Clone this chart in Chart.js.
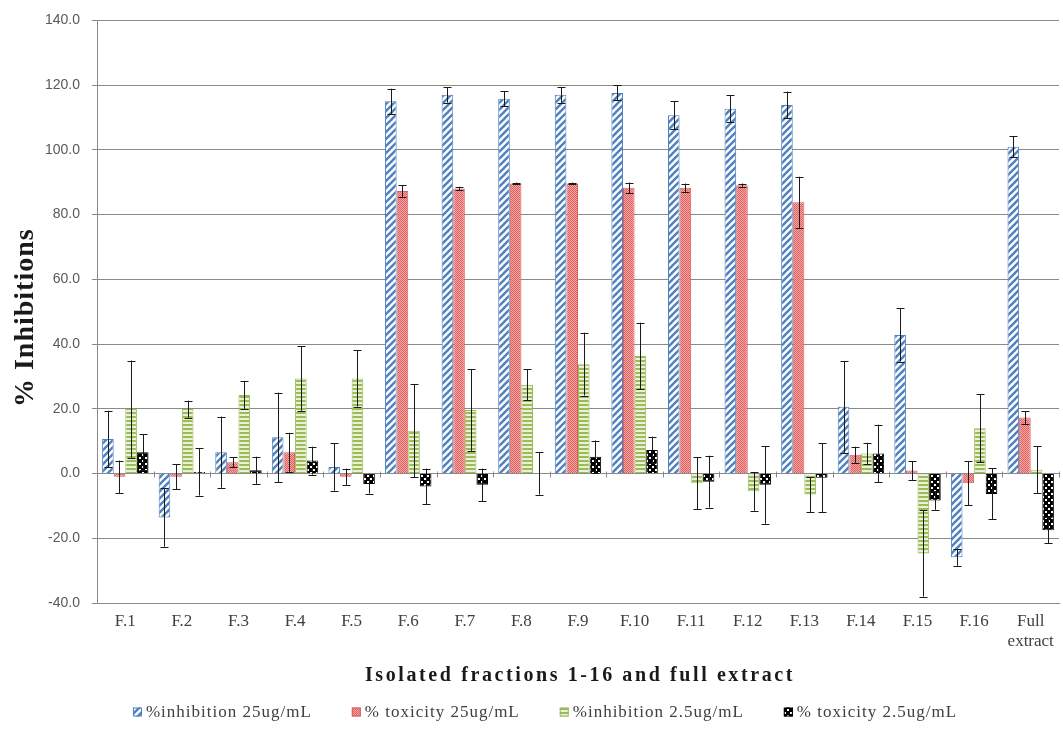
<!DOCTYPE html>
<html>
<head>
<meta charset="utf-8">
<script src="https://cdn.jsdelivr.net/npm/chart.js@4/dist/chart.umd.min.js"></script>
<style>
  html, body { margin: 0; padding: 0; background: #ffffff; }
  #wrap { width: 1063px; height: 737px; }
</style>
</head>
<body>
<div id="wrap"><canvas id="c" width="1063" height="737"></canvas></div>
<script>
// ---- data ----
const categories = ['F.1','F.2','F.3','F.4','F.5','F.6','F.7','F.8','F.9','F.10','F.11','F.12','F.13','F.14','F.15','F.16',['Full','extract']];
const seriesLabels = ['%inhibition 25ug/mL', '% toxicity 25ug/mL', '%inhibition 2.5ug/mL', '% toxicity 2.5ug/mL'];
const inhibition25 = [10.7, -13.6, 6.6, 11.2, 2.0, 115.0, 117.0, 115.8, 117.0, 117.6, 110.7, 112.7, 113.9, 20.6, 42.8, -25.9, 101.0];
const inhibition25Err = [8.7, 9.0, 11.0, 13.8, 7.3, 3.9, 2.4, 2.3, 2.4, 2.3, 4.3, 4.1, 4.1, 14.2, 8.2, 2.6, 3.3];
const toxicity25 = [-1.0, -1.0, 3.5, 6.6, -1.0, 87.3, 88.1, 89.6, 89.6, 88.3, 88.3, 89.1, 83.8, 5.8, 0.9, -3.0, 17.3];
const toxicity25Err = [5.0, 3.9, 1.5, 6.0, 2.5, 1.8, 0.5, 0.3, 0.3, 1.6, 1.3, 0.5, 7.9, 2.5, 2.9, 6.8, 2.0];
const inhibition2_5 = [19.9, 19.9, 24.3, 29.4, 29.4, 13.2, 19.6, 27.4, 33.8, 36.3, -3.0, -5.5, -6.5, 6.2, -24.7, 14.0, 1.2];
const inhibition2_5Err = [15.0, 2.6, 4.3, 10.0, 8.7, 14.4, 12.6, 4.8, 9.7, 10.3, 8.0, 6.0, 5.4, 3.3, 13.3, 10.5, 7.2];
const toxicity2_5 = [6.6, 0.5, 1.0, 4.0, -3.2, -4.0, -3.5, 0.0, 5.2, 7.3, -2.5, -3.5, -1.3, 6.2, -8.3, -6.3, -17.5];
const toxicity2_5Err = [5.5, 7.3, 4.2, 4.3, 3.0, 5.5, 5.0, 6.5, 5.0, 4.1, 8.0, 12.0, 10.6, 8.9, 2.9, 7.9, 4.1];
const yMin = -40, yMax = 140, yStep = 20;
const xTitle = 'Isolated fractions 1-16 and full extract';
const yTitle = '% Inhibitions';

// ---- fill patterns ----
function tile(w, h, paint) {
  const c = document.createElement('canvas');
  c.width = w; c.height = h;
  const g = c.getContext('2d');
  paint(g);
  return document.getElementById('c').getContext('2d').createPattern(c, 'repeat');
}
const bluePattern = tile(7, 7, g => {
  g.fillStyle = '#ffffff'; g.fillRect(0, 0, 7, 7);
  g.strokeStyle = '#4F81BD'; g.lineWidth = 2.4;
  for (const o of [-7, 0, 7]) { g.beginPath(); g.moveTo(o - 1, 8); g.lineTo(o + 8, -1); g.stroke(); }
});
const redPattern = tile(2, 2, g => {
  g.fillStyle = '#F3A9A8'; g.fillRect(0, 0, 2, 2);
  g.fillStyle = '#E25F5D'; g.fillRect(0, 0, 1, 1); g.fillRect(1, 1, 1, 1);
});
const greenPattern = tile(4, 4, g => {
  g.fillStyle = '#EAF1D6'; g.fillRect(0, 0, 4, 4);
  g.fillStyle = '#9BBB59'; g.fillRect(0, 0, 4, 2);
});
const blackPattern = tile(6, 6, g => {
  g.fillStyle = '#000000'; g.fillRect(0, 0, 6, 6);
  g.fillStyle = '#ffffff'; g.fillRect(1, 1, 2, 2); g.fillRect(4, 4, 2, 2);
});

const errorSets = [inhibition25Err, toxicity25Err, inhibition2_5Err, toxicity2_5Err];

// ---- plugins ----
const errorBars = {
  id: 'errorBars',
  afterDatasetsDraw(chart) {
    const ctx = chart.ctx, y = chart.scales.y;
    ctx.save();
    ctx.strokeStyle = '#1a1a1a';
    ctx.lineWidth = 1;
    chart.data.datasets.forEach((ds, i) => {
      const meta = chart.getDatasetMeta(i);
      meta.data.forEach((bar, j) => {
        const v = ds.data[j], e = errorSets[i][j];
        const x = Math.round(bar.x) + 0.5;
        const yt = y.getPixelForValue(v + e), yb = y.getPixelForValue(v - e);
        ctx.beginPath();
        ctx.moveTo(x, yt); ctx.lineTo(x, yb);
        ctx.moveTo(x - 4, Math.round(yt) + 0.5); ctx.lineTo(x + 4, Math.round(yt) + 0.5);
        ctx.moveTo(x - 4, Math.round(yb) + 0.5); ctx.lineTo(x + 4, Math.round(yb) + 0.5);
        ctx.stroke();
      });
    });
    ctx.restore();
  }
};

const zeroAxis = {
  id: 'zeroAxis',
  beforeDatasetsDraw(chart) {
    const ctx = chart.ctx, x = chart.scales.x, y = chart.scales.y;
    const y0 = Math.round(y.getPixelForValue(0)) + 0.5;
    ctx.save();
    ctx.strokeStyle = '#8a8a8a';
    ctx.lineWidth = 1;
    ctx.beginPath();
    const n = chart.data.labels.length;
    for (let k = 0; k <= n; k++) {
      const px = Math.round(x.left + (x.right - x.left) * k / n) + 0.5;
      ctx.moveTo(px, y0 - 3); ctx.lineTo(px, y0 + 3);
    }
    ctx.stroke();
    ctx.restore();
  }
};

const titlesAndLegend = {
  id: 'titlesAndLegend',
  afterDraw(chart) {
    const ctx = chart.ctx, a = chart.chartArea;
    ctx.save();
    // x axis title
    ctx.fillStyle = '#1a1a1a';
    ctx.font = 'bold 20px "Liberation Serif"';
    ctx.letterSpacing = '2.6px';
    ctx.textAlign = 'center';
    ctx.textBaseline = 'middle';
    ctx.fillText(xTitle, (a.left + a.right) / 2 + 2, a.bottom + 73);
    // y axis title
    ctx.save();
    ctx.translate(26, (a.top + a.bottom) / 2 + 6);
    ctx.rotate(-Math.PI / 2);
    ctx.font = 'bold 28px "Liberation Serif"';
    ctx.letterSpacing = '1px';
    ctx.fillText(yTitle, 0, 0);
    ctx.restore();
    // legend
    ctx.font = '17px "Liberation Serif"';
    ctx.letterSpacing = '1px';
    ctx.textAlign = 'left';
    const box = 9, gap = 4, itemGap = 40;
    const items = chart.data.datasets.map(ds => ({ ds, w: ctx.measureText(ds.label).width }));
    const total = items.reduce((s, it) => s + box + gap + it.w, 0) + itemGap * (items.length - 1);
    let px = 545 - total / 2;
    const ly = a.bottom + 109;
    items.forEach(it => {
      ctx.fillStyle = it.ds.backgroundColor;
      ctx.fillRect(px, ly - box / 2, box, box);
      ctx.strokeStyle = it.ds.borderColor;
      ctx.lineWidth = 1;
      ctx.strokeRect(px + 0.5, ly - box / 2 + 0.5, box - 1, box - 1);
      ctx.fillStyle = '#404040';
      ctx.fillText(it.ds.label, px + box + gap, ly + 1);
      px += box + gap + it.w + itemGap;
    });
    ctx.restore();
  }
};

// ---- chart ----
new Chart(document.getElementById('c'), {
  type: 'bar',
  data: {
    labels: categories,
    datasets: [
      { label: seriesLabels[0], data: inhibition25, backgroundColor: bluePattern, borderColor: '#4F81BD', borderWidth: 1 },
      { label: seriesLabels[1], data: toxicity25, backgroundColor: redPattern, borderColor: '#D9605E', borderWidth: 1 },
      { label: seriesLabels[2], data: inhibition2_5, backgroundColor: greenPattern, borderColor: '#9BBB59', borderWidth: 1 },
      { label: seriesLabels[3], data: toxicity2_5, backgroundColor: blackPattern, borderColor: '#000000', borderWidth: 1 }
    ]
  },
  options: {
    responsive: false,
    animation: false,
    devicePixelRatio: 1,
    layout: { padding: { top: 18, right: 4, bottom: 0, left: 0 } },
    datasets: { bar: { categoryPercentage: 0.82, barPercentage: 1.0 } },
    plugins: { legend: { display: false }, tooltip: { enabled: false }, title: { display: false } },
    scales: {
      x: {
        grid: { display: false, drawTicks: false },
        border: { display: true, color: '#8a8a8a', width: 1 },
        ticks: { font: { family: 'Liberation Serif', size: 17 }, color: '#404040', padding: 8, maxRotation: 0, autoSkip: false },
        afterFit(s) { s.height = 134; }
      },
      y: {
        min: yMin, max: yMax,
        ticks: { stepSize: yStep, callback: v => Number(v).toFixed(1), font: { family: 'Liberation Sans', size: 14 }, color: '#595959', padding: 12 },
        grid: { color: '#8a8a8a', lineWidth: 1, tickLength: 5 },
        border: { display: true, color: '#8a8a8a', width: 1 },
        afterFit(s) { s.width = 97; }
      }
    }
  },
  plugins: [zeroAxis, errorBars, titlesAndLegend]
});
</script>
</body>
</html>
